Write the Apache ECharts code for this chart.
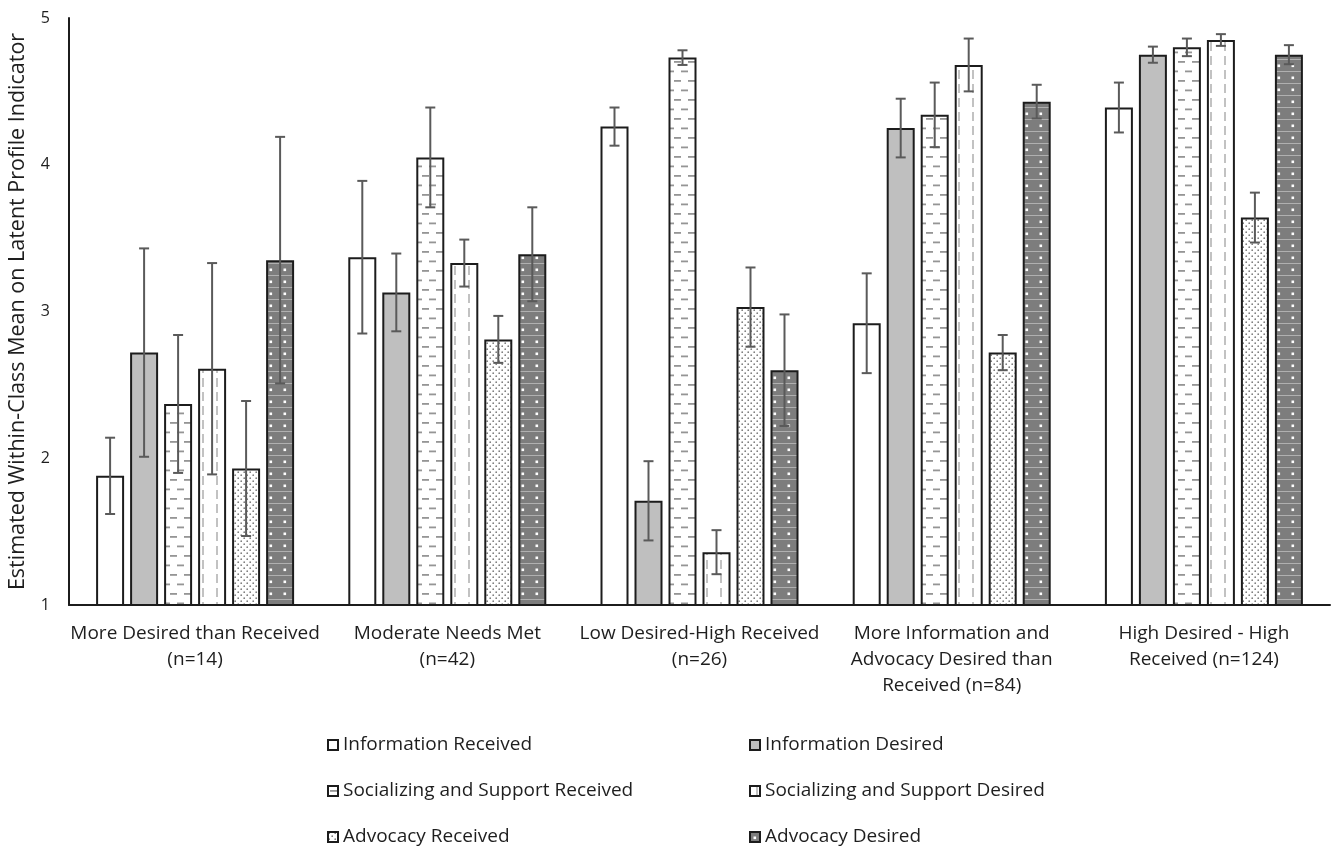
<!DOCTYPE html>
<html>
<head>
<meta charset="utf-8">
<title>Latent profile indicator means</title>
<script src="https://cdn.jsdelivr.net/npm/echarts@6/dist/echarts.min.js"></script>
<style>
  html, body { margin: 0; padding: 0; background: #ffffff; }
  #chart { width: 1342px; height: 853px; }
</style>
</head>
<body>
<div id="chart"></div>
<script>
// Latent classes shown along the x axis
const categories = [
  'More Desired than Received\n(n=14)',
  'Moderate Needs Met\n(n=42)',
  'Low Desired-High Received\n(n=26)',
  'More Information and\nAdvocacy Desired than\nReceived (n=84)',
  'High Desired - High\nReceived (n=124)'
];

const seriesNames = [
  'Information Received',
  'Information Desired',
  'Socializing and Support Received',
  'Socializing and Support Desired',
  'Advocacy Received',
  'Advocacy Desired'
];

// Estimated within-class means, one value per class
const infoReceived   = [1.88, 3.37, 4.26, 2.92, 4.39];
const infoDesired    = [2.72, 3.13, 1.71, 4.25, 4.75];
const socialReceived = [2.37, 4.05, 4.73, 4.34, 4.80];
const socialDesired  = [2.61, 3.33, 1.36, 4.68, 4.85];
const advReceived    = [1.93, 2.81, 3.03, 2.72, 3.64];
const advDesired     = [3.35, 3.39, 2.60, 4.43, 4.75];

// Half-widths of the error bars
const infoReceivedErr   = [0.26, 0.52, 0.13, 0.34, 0.17];
const infoDesiredErr    = [0.71, 0.265, 0.27, 0.20, 0.055];
const socialReceivedErr = [0.47, 0.34, 0.05, 0.22, 0.06];
const socialDesiredErr  = [0.72, 0.16, 0.15, 0.18, 0.04];
const advReceivedErr    = [0.46, 0.16, 0.27, 0.12, 0.17];
const advDesiredErr     = [0.84, 0.32, 0.38, 0.115, 0.065];

// Y axis range
const yMin = 1;
const yMax = 5;
const yStep = 1;

const means = [infoReceived, infoDesired, socialReceived, socialDesired, advReceived, advDesired];
const errors = [infoReceivedErr, infoDesiredErr, socialReceivedErr, socialDesiredErr, advReceivedErr, advDesiredErr];

const FONT = '"Open Sans", "Noto Sans", sans-serif';
const TEXT_COLOR = '#1e1e1e';
const BAR_W = 28;
const BAR_GAP = 6;

// Tiled fills for the bars
function tile(w, h, draw) {
  const c = document.createElement('canvas');
  c.width = w; c.height = h;
  const ctx = c.getContext('2d');
  draw(ctx, w, h);
  return { image: c, repeat: 'repeat' };
}

const fills = [
  '#ffffff',
  '#bfbfbf',
  // horizontal dashes, brick offset
  tile(14, 19, (ctx, w, h) => {
    ctx.fillStyle = '#ffffff'; ctx.fillRect(0, 0, w, h);
    ctx.fillStyle = '#959595';
    ctx.fillRect(2, 4, 7, 1.8);
    ctx.fillRect(9, 13.5, 5, 1.8);
    ctx.fillRect(0, 13.5, 2, 1.8);
  }),
  // vertical dashed lines
  tile(14, 14, (ctx, w, h) => {
    ctx.fillStyle = '#ffffff'; ctx.fillRect(0, 0, w, h);
    ctx.fillStyle = '#c2c2c2';
    ctx.fillRect(6, 0, 2, 9);
  }),
  // small dots
  tile(6, 6, (ctx, w, h) => {
    ctx.fillStyle = '#ffffff'; ctx.fillRect(0, 0, w, h);
    ctx.fillStyle = '#7a7a7a';
    ctx.beginPath(); ctx.arc(1.2, 1.2, 0.85, 0, Math.PI * 2); ctx.fill();
    ctx.beginPath(); ctx.arc(4.2, 4.2, 0.85, 0, Math.PI * 2); ctx.fill();
  }),
  // dark fill with light rules and dots
  tile(14, 12, (ctx, w, h) => {
    ctx.fillStyle = '#7d7d7d'; ctx.fillRect(0, 0, w, h);
    ctx.fillStyle = '#b0b0b0';
    ctx.fillRect(0, 11, w, 1);
    ctx.fillStyle = '#ffffff';
    ctx.fillRect(3.5, 4.5, 2.6, 2.6);
  })
];

const barSeries = seriesNames.map((name, i) => ({
  name: name,
  type: 'bar',
  data: means[i],
  barWidth: BAR_W,
  barGap: (BAR_GAP / BAR_W * 100) + '%',
  itemStyle: {
    color: fills[i],
    borderColor: '#1c1c1c',
    borderWidth: 2
  },
  emphasis: { disabled: true },
  z: 2
}));

// One error bar per (class, indicator)
const errData = [];
for (let s = 0; s < means.length; s++) {
  for (let c = 0; c < categories.length; c++) {
    errData.push([c, s, means[s][c], errors[s][c]]);
  }
}

const errorSeries = {
  type: 'custom',
  name: 'error',
  data: errData,
  z: 10,
  silent: true,
  encode: { x: 0, y: 2 },
  renderItem: function (params, api) {
    const c = api.value(0);
    const s = api.value(1);
    const m = api.value(2);
    const e = api.value(3);
    const n = seriesNames.length;
    const groupW = n * BAR_W + (n - 1) * BAR_GAP;
    const center = api.coord([c, m]);
    const x = center[0] - groupW / 2 + BAR_W / 2 + s * (BAR_W + BAR_GAP);
    const top = api.coord([c, m + e])[1];
    const bottom = api.coord([c, m - e])[1];
    const cap = 5;
    const style = { stroke: '#5a5a5a', lineWidth: 2, fill: null };
    return {
      type: 'group',
      children: [
        { type: 'line', shape: { x1: x, y1: top, x2: x, y2: bottom }, style: style },
        { type: 'line', shape: { x1: x - cap, y1: top, x2: x + cap, y2: top }, style: style },
        { type: 'line', shape: { x1: x - cap, y1: bottom, x2: x + cap, y2: bottom }, style: style }
      ]
    };
  }
};

const legendText = { fontFamily: FONT, fontSize: 19, color: TEXT_COLOR, lineHeight: 20 };
const legendBase = {
  orient: 'vertical', top: 735, height: 140, padding: 0,
  icon: 'rect', itemWidth: 10, itemHeight: 10, itemGap: 26,
  textStyle: legendText, selectedMode: false
};

const option = {
  animation: false,
  backgroundColor: '#ffffff',
  grid: { left: 69, right: 12, top: 18, bottom: 248, outerBoundsMode: 'none', containLabel: false },
  legend: [
    Object.assign({ data: [seriesNames[0], seriesNames[2], seriesNames[4]], left: 327 }, legendBase),
    Object.assign({ data: [seriesNames[1], seriesNames[3], seriesNames[5]], left: 749 }, legendBase)
  ],
  xAxis: {
    type: 'category',
    data: categories,
    axisLine: { show: true, lineStyle: { color: '#1c1c1c', width: 2 } },
    axisTick: { show: false },
    axisLabel: {
      interval: 0, margin: 16,
      fontFamily: FONT, fontSize: 19, lineHeight: 26, color: TEXT_COLOR
    },
    splitLine: { show: false }
  },
  yAxis: {
    type: 'value',
    min: yMin, max: yMax, interval: yStep,
    name: 'Estimated Within-Class Mean on Latent Profile Indicator',
    nameLocation: 'middle', nameGap: 40, nameRotate: 90,
    nameTextStyle: { fontFamily: FONT, fontSize: 21.5, color: TEXT_COLOR },
    axisLine: { show: true, lineStyle: { color: '#1c1c1c', width: 2 } },
    axisTick: { show: false },
    axisLabel: { fontFamily: FONT, fontSize: 16, color: TEXT_COLOR, margin: 19 },
    splitLine: { show: false }
  },
  series: barSeries.concat([errorSeries])
};

const chart = echarts.init(document.getElementById('chart'), null, { renderer: 'canvas' });
chart.setOption(option);
</script>
</body>
</html>
